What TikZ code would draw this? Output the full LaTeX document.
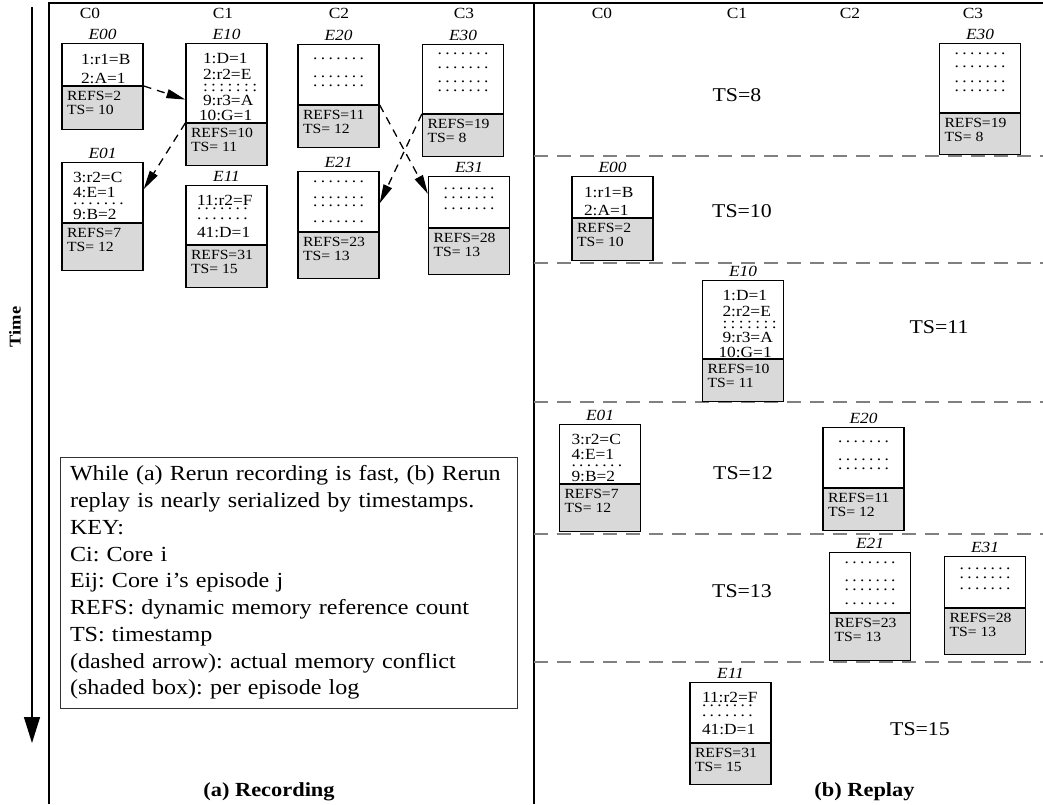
\documentclass[tikz,border=0pt]{standalone}
\usepackage{fontspec}
\setmainfont{Liberation Serif}[FakeStretch=1.12]
\usetikzlibrary{calc,shapes.multipart,arrows.meta}
\frenchspacing
\newcommand*{\DotRow}[1][.]{% #1 = dot character
  \foreach \i in {1,...,6}{#1\hspace{3.4pt}}#1%
}
\newcommand*{\Inset}[1]{\raggedright\leftskip=#1pt\relax}
\newcommand*{\Episode}[8]{% #1 = name, #2 = top centre, #3 = label, #4/#5 = upper height/lines, #6 = lower height, #7 = REFS, #8 = TS
  \node [episode, label={[eplabel]above:#3}] (#1) at (#2)
    {\parbox[c][#4][t]{73pt}{#5}%
     \nodepart{two}\parbox[c][#6][t]{73pt}{\fontsize{14}{14}\selectfont
       \rule{0pt}{14pt}\hspace*{1pt}REFS=#7\\[0pt]\hspace*{1pt}TS= #8}};
}
\tikzset{
  episode/.style={rectangle split, rectangle split parts=2, draw, line width=1.3pt,
    rectangle split part fill={white,gray!30}, inner xsep=4pt, inner ysep=0pt, anchor=north,
    font={\fontsize{15.5}{15.5}\selectfont\lineskiplimit=-100pt}},
  eplabel/.style={font=\fontsize{15.5}{15.5}\selectfont\itshape, inner sep=3pt},
  core/.style={font=\fontsize{15.5}{15.5}\selectfont},
  tslabel/.style={font=\fontsize{19.5}{19.5}\selectfont},
  conflict/.style={line width=1.3pt, dash pattern=on 8pt off 6pt,
    -{Triangle[length=19pt,width=9pt]}},
  frame/.style={line width=1.5pt},
  slot/.style={gray, line width=1.1pt, dash pattern=on 14pt off 9pt},
  caption/.style={font=\bfseries\fontsize{20}{20}\selectfont},
}

\begin{document}
\begin{tikzpicture}[x=1pt, y=-1pt]
  \useasboundingbox (0,0) rectangle (1043,804);
  % frames
  \draw [frame] (49,804) -- (49,3) -- (1043,3);
  \draw [frame] (534,3) -- (534,804);
  % time axis
  \coordinate (tstart) at (32,7);
  \coordinate (tend) at (32,743);
  \draw [line width=1.3pt, -{Triangle[length=26pt,width=16pt]}] (tstart) -- (tend);
  \node [rotate=90, font=\bfseries\fontsize{16.5}{16.5}\selectfont] (timelbl) at (15,327) {Time};

  % (a) recording
  \foreach \c/\x in {0/90, 1/223, 2/339, 3/464}
    \node [core] (coreA\c) at (\x,13) {C\c};
  \Episode{E00a}{102.5,43}{E00}{41pt}{\Inset{15}\rule{0pt}{20pt}1:r1=B\\[4pt]2:A=1}{42pt}{2}{10}
  \Episode{E10a}{226.5,43}{E10}{78pt}{\Inset{13}\rule{0pt}{19pt}1:D=1\\[1pt]2:r2=E\\[-3.5pt]\DotRow[:]\\[-1.5pt]9:r3=A\\[-1pt]\hspace*{-4pt}10:G=1}{41pt}{10}{11}
  \Episode{E01a}{102.5,162}{E01}{59pt}{\Inset{7}\rule{0pt}{19pt}3:r2=C\\4:E=1\\[-9pt]\DotRow\\9:B=2}{46pt}{7}{12}
  \Episode{E11a}{226.5,185}{E11}{58pt}{\Inset{7}\rule{0pt}{19pt}11:r2=F\\[-11pt]\DotRow\\[-6pt]\DotRow\\[3pt]41:D=1}{41pt}{31}{15}
  \Episode{E20a}{338.5,44}{E20}{59pt}{\centering\rule{0pt}{14pt}\DotRow\\[3pt]\DotRow\\[-7pt]\DotRow}{41pt}{11}{12}
  \Episode{E30a}{463,44}{E30}{68pt}{\centering\rule{0pt}{9pt}\DotRow\\[-1pt]\DotRow\\[-2pt]\DotRow\\[-6pt]\DotRow}{41pt}{19}{8}
  \Episode{E21a}{338.5,171}{E21}{59pt}{\centering\rule{0pt}{10pt}\DotRow\\[1pt]\DotRow\\[-8pt]\DotRow\\[1pt]\DotRow}{45pt}{23}{13}
  \Episode{E31a}{469,176}{E31}{50pt}{\centering\rule{0pt}{12pt}\DotRow\\[-6pt]\DotRow\\[-5pt]\DotRow}{45pt}{28}{13}
  % memory conflicts
  \draw [conflict] (E00a.text split east) -- ($(E10a.north west)!.46!(E10a.south west)$);
  \draw [conflict] (E10a.text split west) -- ($(E01a.north east)!.25!(E01a.south east)$);
  \draw [conflict] (E20a.text split east) -- ($(E31a.north west)!.18!(E31a.south west)$);
  \draw [conflict] (E30a.text split west) -- ($(E21a.north east)!.30!(E21a.south east)$);

  \node [draw=black!80, line width=1pt, minimum width=457pt, minimum height=251pt,
    text width=437pt, inner xsep=10pt, align=left, font=\fontsize{21.5}{26.75}\selectfont]
    (key) at (288.5,582.5)
    {\makebox[437pt][s]{While (a) Rerun recording is fast, (b) Rerun}\\
     replay is nearly serialized by timestamps.\\
     KEY:\\
     Ci: Core i\\
     Eij: Core i's episode j\\
     REFS: dynamic memory reference count\\
     TS: timestamp\\
     (dashed arrow): actual memory conflict\\
     (shaded box): per episode log};
  \node [caption] (capA) at (269,792) {(a) Recording};

  % (b) replay
  \foreach \c/\x in {0/602, 1/737, 2/850, 3/973}
    \node [core] (coreB\c) at (\x,13) {C\c};
  \foreach \y in {156, 263, 402, 534, 662}
    \draw [slot] (534,\y) -- (1043,\y);
  \foreach \t/\x/\y in {8/737/95, 10/742/211, 11/939/327, 12/743/473, 13/742/591, 15/920/729}
    \node [tslabel] (ts\t) at (\x,\y) {TS=\t};
  \Episode{E30b}{980,43}{E30}{68pt}{\centering\rule{0pt}{10pt}\DotRow\\[-2pt]\DotRow\\[-1pt]\DotRow\\[-6pt]\DotRow}{40pt}{19}{8}
  \Episode{E00b}{612.5,176}{E00}{40pt}{\Inset{8}\rule{0pt}{20pt}1:r1=B\\[3pt]2:A=1}{41pt}{2}{10}
  \Episode{E10b}{743,280}{E10}{77pt}{\Inset{16}\rule{0pt}{19pt}1:D=1\\[1pt]2:r2=E\\[-3.5pt]\DotRow[:]\\[-1.5pt]9:r3=A\\[-1pt]\hspace*{-4pt}10:G=1}{41pt}{10}{11}
  \Episode{E01b}{600,424}{E01}{58pt}{\Inset{8}\rule{0pt}{19pt}3:r2=C\\4:E=1\\[-9pt]\DotRow\\9:B=2}{46pt}{7}{12}
  \Episode{E20b}{863.5,427}{E20}{59pt}{\centering\rule{0pt}{14pt}\DotRow\\[3pt]\DotRow\\[-7pt]\DotRow}{41pt}{11}{12}
  \Episode{E21b}{870,552}{E21}{59pt}{\centering\rule{0pt}{10pt}\DotRow\\[3pt]\DotRow\\[-7pt]\DotRow\\[-1pt]\DotRow}{46pt}{23}{13}
  \Episode{E31b}{985,556}{E31}{50pt}{\centering\rule{0pt}{12pt}\DotRow\\[-6pt]\DotRow\\[-5pt]\DotRow}{45pt}{28}{13}
  \Episode{E11b}{730.5,682}{E11}{59pt}{\Inset{8}\rule{0pt}{19pt}11:r2=F\\[-11pt]\DotRow\\[-6pt]\DotRow\\[3pt]41:D=1}{40pt}{31}{15}
  \node [caption] (capB) at (864.5,792) {(b) Replay};
\end{tikzpicture}
\end{document}
